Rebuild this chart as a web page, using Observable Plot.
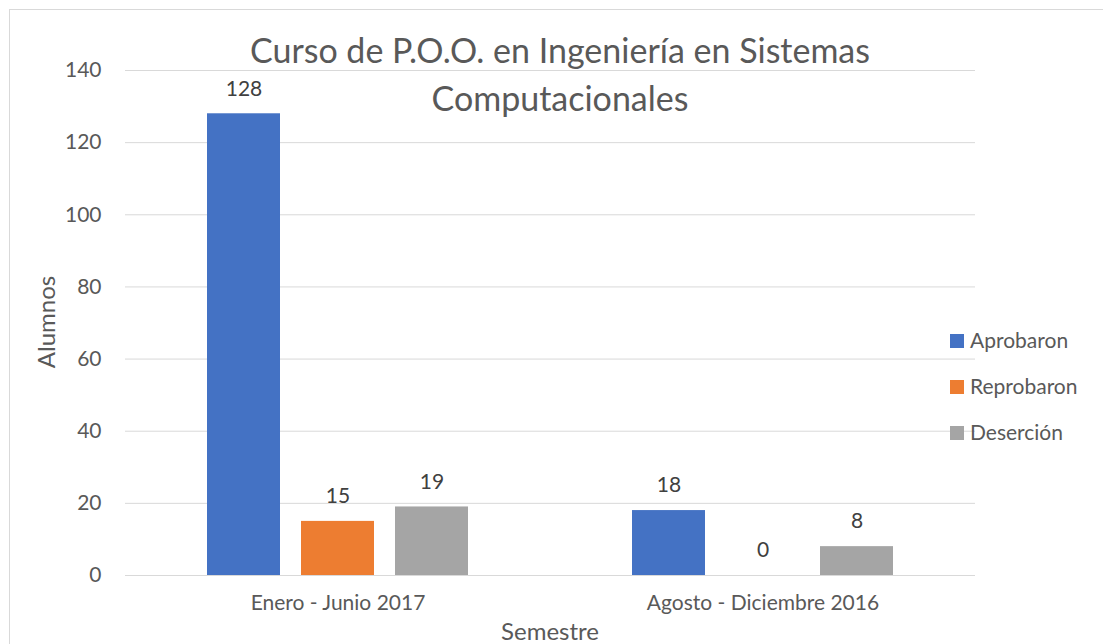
<!DOCTYPE html>
<html>
<head>
<meta charset="utf-8">
<script src="https://cdn.jsdelivr.net/npm/d3@7"></script>
<script src="https://cdn.jsdelivr.net/npm/@observablehq/plot@0.6"></script>
<style>
  html, body { margin: 0; padding: 0; background: #fff; }
  body { width: 1103px; height: 644px; overflow: hidden; position: relative; font-family: Lato, "Open Sans", sans-serif; color: #595959; }
  #frame { position: absolute; left: 9px; top: 9px; width: 1110px; height: 660px; border: 1px solid #d9d9d9; box-sizing: border-box; }
  #chart { position: absolute; left: 0; top: 0; }
  #title { position: absolute; left: 210px; width: 700px; top: 26px; text-align: center; font-size: 34px; line-height: 48px; color: #595959; }
  #ylabel { position: absolute; left: 45px; top: 322px; transform: translate(-50%, -50%) rotate(-90deg); font-size: 24px; white-space: nowrap; }
  #xlabel { position: absolute; left: 550px; top: 630px; transform: translate(-50%, -50%); font-size: 24px; white-space: nowrap; }
  #legend { position: absolute; left: 950px; top: 327px; font-size: 21px; }
  .item { height: 46px; display: flex; align-items: flex-start; }
  .sw { width: 14px; height: 14px; margin-top: 7px; margin-right: 6px; }
</style>
</head>
<body>
<div id="frame"></div>
<div id="chart"></div>
<div id="title">Curso de P.O.O. en Ingeniería en Sistemas<br>Computacionales</div>
<div id="ylabel">Alumnos</div>
<div id="xlabel">Semestre</div>
<div id="legend"></div>
<script>
const semestres = ["Enero - Junio 2017", "Agosto - Diciembre 2016"];
const series = ["Aprobaron", "Reprobaron", "Deserción"];
const aprobaron = [128, 18];
const reprobaron = [15, 0];
const desercion = [19, 8];
const colores = ["#4472C4", "#ED7D31", "#A5A5A5"];
const yTicks = [0, 20, 40, 60, 80, 100, 120, 140];

const valores = [aprobaron, reprobaron, desercion];
const data = [];
semestres.forEach((s, i) => {
  series.forEach((serie, j) => {
    data.push({semestre: s, serie, valor: valores[j][i]});
  });
});

const chart = Plot.plot({
  width: 1103,
  height: 644,
  marginLeft: 125,
  marginRight: 128,
  marginTop: 70,
  marginBottom: 69,
  style: {fontFamily: "Lato, 'Open Sans', sans-serif", fontSize: "21px", color: "#595959", background: "transparent"},
  fx: {domain: semestres, padding: 0, label: null, tickSize: 0, tickPadding: 20, axis: "bottom"},
  x: {domain: series, paddingInner: 0.22, paddingOuter: 0.847, axis: null},
  y: {domain: [0, 140], ticks: yTicks, tickSize: 0, tickPadding: 24, label: null},
  color: {domain: series, range: colores},
  marks: [
    Plot.ruleY(yTicks, {stroke: "#d9d9d9", strokeWidth: 1}),
    Plot.barY(data, {fx: "semestre", x: "serie", y: "valor", fill: "serie"}),
    Plot.text(data, {fx: "semestre", x: "serie", y: "valor", text: d => String(d.valor), dy: -25, fill: "#404040", fontSize: 21})
  ]
});
document.getElementById("chart").appendChild(chart);

const legend = document.getElementById("legend");
series.forEach((s, j) => {
  const it = document.createElement("div");
  it.className = "item";
  it.innerHTML = `<div class="sw" style="background:${colores[j]}"></div><span>${s}</span>`;
  legend.appendChild(it);
});
</script>
</body>
</html>
